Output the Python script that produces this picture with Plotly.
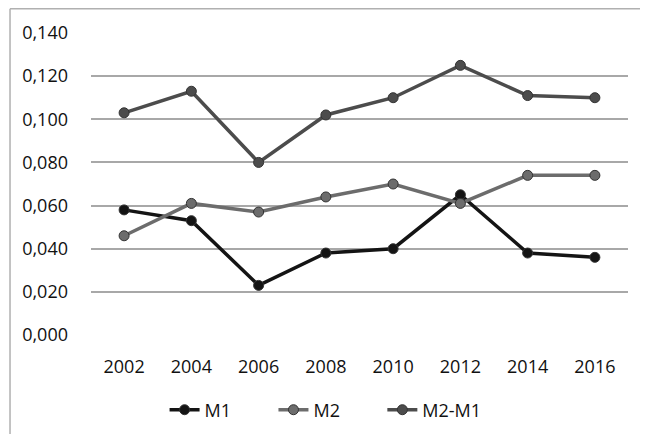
import plotly.graph_objects as go

years = ["2002", "2004", "2006", "2008", "2010", "2012", "2014", "2016"]
m1 = [0.058, 0.053, 0.023, 0.038, 0.040, 0.065, 0.038, 0.036]
m2 = [0.046, 0.061, 0.057, 0.064, 0.070, 0.061, 0.074, 0.074]
m2_m1 = [0.103, 0.113, 0.080, 0.102, 0.110, 0.125, 0.111, 0.110]
y_ticks = [0.0, 0.02, 0.04, 0.06, 0.08, 0.10, 0.12, 0.14]
y_labels = ["0,000", "0,020", "0,040", "0,060", "0,080", "0,100", "0,120", "0,140"]

FONT = "Open Sans, Liberation Sans, sans-serif"
PAD = "\u00a0" * 8

fig = go.Figure()
series = [
    ("M1", m1, "#141414", 3.5, PAD),
    ("M2", m2, "#6c6c6c", 3.5, PAD),
    ("M2-M1", m2_m1, "#4c4c4c", 3.5, ""),
]
for name, vals, col, w, pad in series:
    fig.add_trace(go.Scatter(
        x=years, y=vals, name=name + pad, mode="lines+markers",
        line=dict(color=col, width=w),
        marker=dict(color=col, size=10, line=dict(color="#333333", width=1)),
    ))

fig.update_layout(
    width=632, height=426,
    margin=dict(l=83, r=12, t=25, b=99, autoexpand=False),
    paper_bgcolor="white", plot_bgcolor="white",
    font=dict(family=FONT, size=18, color="#111111"),
    showlegend=True,
    legend=dict(orientation="h", x=0.137, xanchor="left",
                yref="container", y=0.0563, yanchor="middle",
                font=dict(size=18), traceorder="normal"),
    xaxis=dict(type="category", showgrid=False, showline=False, ticks="",
               ticklabelstandoff=19, tickfont=dict(size=18), automargin=False),
    yaxis=dict(range=[0, 0.14], tickvals=y_ticks, ticktext=y_labels,
               showgrid=True, gridcolor="#a8a8a8", gridwidth=1.5,
               zeroline=False, showline=False, ticks="",
               ticklabelstandoff=22, tickfont=dict(size=18), automargin=False),
    shapes=[
        dict(type="line", xref="paper", yref="paper",
             x0=-0.1508, x1=1.06, y0=1.0803, y1=1.0803,
             line=dict(color="#b0b0b0", width=1.5), layer="below"),
        dict(type="line", xref="paper", yref="paper",
             x0=-0.1508, x1=-0.1508, y0=1.0803, y1=-0.33,
             line=dict(color="#b0b0b0", width=1.5), layer="below"),
    ],
)

fig.write_html("out.html")
